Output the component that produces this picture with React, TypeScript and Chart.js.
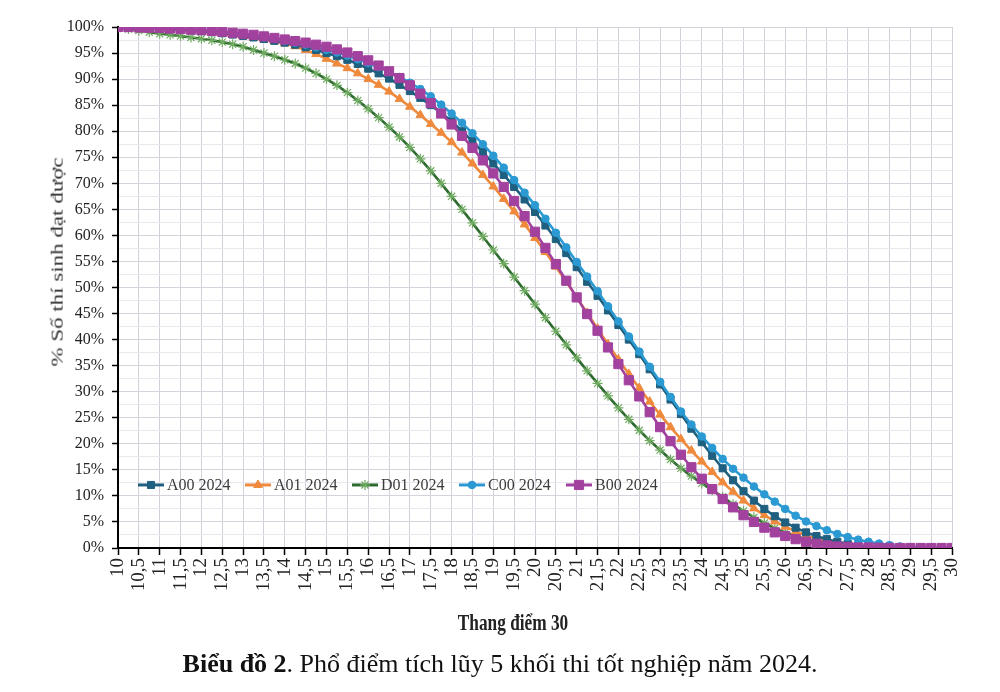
import React, { useEffect, useRef } from 'react';
import { Chart, registerables } from 'chart.js';
import { drawPoint } from 'chart.js/helpers';

Chart.register(...registerables);

// Thang điểm (x values), step 0.25
const scores = [
  10, 10.25, 10.5, 10.75, 11, 11.25, 11.5, 11.75, 12, 12.25, 12.5, 12.75,
  13, 13.25, 13.5, 13.75, 14, 14.25, 14.5, 14.75, 15, 15.25, 15.5, 15.75,
  16, 16.25, 16.5, 16.75, 17, 17.25, 17.5, 17.75, 18, 18.25, 18.5, 18.75,
  19, 19.25, 19.5, 19.75, 20, 20.25, 20.5, 20.75, 21, 21.25, 21.5, 21.75,
  22, 22.25, 22.5, 22.75, 23, 23.25, 23.5, 23.75, 24, 24.25, 24.5, 24.75,
  25, 25.25, 25.5, 25.75, 26, 26.25, 26.5, 26.75, 27, 27.25, 27.5, 27.75,
  28, 28.25, 28.5, 28.75, 29, 29.25, 29.5, 29.75, 30,
];

const seriesLabels = ['A00 2024', 'A01 2024', 'D01 2024', 'C00 2024', 'B00 2024'];

const a00 = [
  100, 99.9, 99.85, 99.8, 99.7, 99.6, 99.5, 99.35, 99.2, 99.0, 98.8, 98.55,
  98.3, 98.0, 97.7, 97.35, 97.0, 96.6, 96.1, 95.6, 95.0, 94.4, 93.7, 92.9,
  92.0, 91.1, 90.1, 88.9, 87.7, 86.4, 85.0, 83.5, 81.9, 80.0, 78.1, 76.0,
  73.8, 71.6, 69.3, 66.9, 64.5, 61.9, 59.3, 56.6, 53.9, 51.1, 48.4, 45.6,
  42.8, 40.0, 37.2, 34.3, 31.4, 28.5, 25.7, 22.9, 20.3, 17.7, 15.3, 13.0,
  10.9, 9.1, 7.5, 6.1, 4.9, 3.9, 3.0, 2.3, 1.7, 1.2, 0.8, 0.5,
  0.3, 0.2, 0.1, 0.05, 0, 0, 0, 0, 0,
];

const a01 = [
  99.9, 99.85, 99.8, 99.7, 99.6, 99.5, 99.4, 99.25, 99.1, 98.9, 98.7, 98.45,
  98.2, 97.9, 97.6, 97.25, 96.85, 96.3, 95.6, 94.8, 93.9, 93.0, 92.1, 91.1,
  90.0, 88.9, 87.6, 86.2, 84.7, 83.1, 81.4, 79.7, 77.9, 75.9, 73.8, 71.6,
  69.4, 67.0, 64.6, 62.1, 59.5, 56.8, 54.0, 51.1, 48.1, 45.1, 42.1, 39.1,
  36.2, 33.4, 30.7, 28.1, 25.6, 23.2, 20.9, 18.7, 16.6, 14.6, 12.6, 10.8,
  9.1, 7.6, 6.3, 5.1, 4.1, 3.2, 2.4, 1.8, 1.3, 0.9, 0.6, 0.4,
  0.25, 0.15, 0.1, 0.05, 0, 0, 0, 0, 0,
];

const d01 = [
  99.9, 99.6, 99.3, 99.0, 98.7, 98.5, 98.25, 98.0, 97.75, 97.45, 97.1, 96.7,
  96.2, 95.6, 95.0, 94.4, 93.7, 93.0, 92.1, 91.1, 90.0, 88.8, 87.4, 85.9,
  84.3, 82.6, 80.8, 78.9, 76.9, 74.7, 72.4, 70.0, 67.5, 65.0, 62.4, 59.8,
  57.2, 54.6, 52.0, 49.4, 46.8, 44.2, 41.6, 39.0, 36.5, 34.0, 31.6, 29.2,
  26.9, 24.7, 22.6, 20.6, 18.8, 17.0, 15.3, 13.8, 12.4, 11.1, 9.8, 8.4,
  7.1, 5.9, 4.8, 3.8, 3.0, 2.3, 1.7, 1.2, 0.8, 0.5, 0.3, 0.2,
  0.1, 0.05, 0, 0, 0, 0, 0, 0, 0,
];

const c00 = [
  100, 99.95, 99.9, 99.85, 99.8, 99.7, 99.6, 99.5, 99.35, 99.2, 99.0, 98.8,
  98.55, 98.3, 98.0, 97.7, 97.35, 97.0, 96.6, 96.1, 95.6, 95.1, 94.5, 93.8,
  93.1, 92.3, 91.4, 90.4, 89.3, 88.1, 86.7, 85.1, 83.4, 81.6, 79.6, 77.5,
  75.3, 73.0, 70.6, 68.2, 65.8, 63.2, 60.5, 57.7, 54.9, 52.1, 49.3, 46.4,
  43.5, 40.6, 37.7, 34.8, 31.9, 29.0, 26.2, 23.7, 21.4, 19.2, 17.1, 15.2,
  13.5, 11.8, 10.3, 8.9, 7.5, 6.2, 5.1, 4.2, 3.4, 2.7, 2.1, 1.6,
  1.2, 0.85, 0.55, 0.3, 0.15, 0.08, 0.03, 0, 0,
];

const b00 = [
  100, 100, 99.9, 99.85, 99.8, 99.7, 99.6, 99.5, 99.4, 99.25, 99.1, 98.9,
  98.7, 98.5, 98.2, 97.9, 97.6, 97.3, 97.0, 96.6, 96.2, 95.7, 95.1, 94.4,
  93.6, 92.6, 91.5, 90.2, 88.8, 87.2, 85.4, 83.4, 81.3, 79.1, 76.8, 74.4,
  71.9, 69.3, 66.6, 63.7, 60.7, 57.6, 54.5, 51.3, 48.1, 44.9, 41.7, 38.5,
  35.3, 32.2, 29.1, 26.1, 23.2, 20.5, 17.9, 15.5, 13.3, 11.3, 9.4, 7.8,
  6.3, 5.0, 3.9, 3.0, 2.3, 1.7, 1.2, 0.8, 0.5, 0.3, 0.2, 0.1,
  0.1, 0.05, 0.03, 0, 0, 0, 0, 0, 0,
];

const LEGEND_Y = 12.1;
const SERIF = "'Liberation Serif', 'Times New Roman', serif";

const toPoints = (vals: number[]) => scores.map((x, i) => ({ x, y: vals[i] }));

const inlineLegend = {
  id: 'inlineLegend',
  afterDraw(chart: any) {
    const { ctx, chartArea, scales } = chart;
    const y = scales.y.getPixelForValue(LEGEND_Y);
    ctx.save();
    chart.data.datasets.forEach((ds: any, i: number) => {
      const x0 = chartArea.left + 20 + i * 107;
      ctx.strokeStyle = ds.borderColor;
      ctx.lineWidth = 3;
      ctx.beginPath();
      ctx.moveTo(x0, y);
      ctx.lineTo(x0 + 26, y);
      ctx.stroke();
      ctx.fillStyle = ds.pointBackgroundColor;
      ctx.strokeStyle = ds.pointBorderColor;
      ctx.lineWidth = ds.pointBorderWidth;
      drawPoint(
        ctx,
        { pointStyle: ds.pointStyle, radius: ds.pointRadius, rotation: 0, borderWidth: ds.pointBorderWidth },
        x0 + 13,
        y
      );
      ctx.fillStyle = '#3c3c3c';
      ctx.font = `16px ${SERIF}`;
      ctx.textBaseline = 'middle';
      ctx.textAlign = 'left';
      ctx.fillText(ds.label, x0 + 29, y + 1);
    });
    ctx.restore();
  },
};

export default function App() {
  const ref = useRef<HTMLCanvasElement | null>(null);

  useEffect(() => {
    if (!ref.current) return;
    const mk = (
      label: string,
      vals: number[],
      color: string,
      pointStyle: string,
      radius: number,
      order: number,
      markerColor?: string,
      markerBorder = 1
    ) => ({
      label,
      data: toPoints(vals),
      borderColor: color,
      backgroundColor: color,
      borderWidth: 2.6,
      pointStyle,
      pointRadius: radius,
      pointBackgroundColor: markerColor || color,
      pointBorderColor: markerColor || color,
      pointBorderWidth: markerBorder,
      tension: 0,
      order,
    });

    const chart = new Chart(ref.current, {
      type: 'line',
      data: {
        datasets: [
          mk(seriesLabels[0], a00, '#1f5f7f', 'rect', 5, 2),
          mk(seriesLabels[1], a01, '#ef8a3d', 'triangle', 5, 3),
          mk(seriesLabels[2], d01, '#2c6a2e', 'star', 5, 4, '#6fab60', 1.2),
          mk(seriesLabels[3], c00, '#2b9ad3', 'circle', 3.8, 1),
          mk(seriesLabels[4], b00, '#a2419e', 'rect', 6.5, 0),
        ] as any,
      },
      options: {
        responsive: false,
        animation: false,
        layout: { padding: { top: 27, right: 48, bottom: 0, left: 0 } },
        plugins: {
          legend: { display: false },
          tooltip: { enabled: false },
        },
        scales: {
          x: {
            type: 'linear',
            min: 10,
            max: 30,
            afterFit: (s: any) => {
              s.height = 144;
            },
            border: { color: '#000', width: 2 },
            grid: { color: '#d3d0d9', lineWidth: 1, tickColor: '#000', tickLength: 7, tickWidth: 1.5 },
            ticks: {
              stepSize: 0.5,
              autoSkip: false,
              maxRotation: 90,
              minRotation: 90,
              padding: 3,
              color: '#222',
              font: { family: SERIF, size: 19 },
              callback: (v: any) => String(v).replace('.', ','),
            },
          },
          y: {
            min: 0,
            max: 100,
            afterFit: (s: any) => {
              s.width = 118;
            },
            border: { color: '#000', width: 2 },
            grid: {
              color: (c: any) => (c.tick && c.tick.value % 5 === 0 ? '#d6d3dc' : '#eae8ee'),
              lineWidth: 1,
              tickColor: (c: any) => (c.tick && c.tick.value % 5 === 0 ? '#000' : 'rgba(0,0,0,0)'),
              tickLength: 6,
              tickWidth: 1.5,
            },
            ticks: {
              stepSize: 2.5,
              autoSkip: false,
              padding: 8,
              color: '#222',
              font: { family: SERIF, size: 16 },
              callback: (v: any) => (Number(v) % 5 === 0 ? `${v}%` : ''),
            },
          },
        },
      } as any,
      plugins: [inlineLegend],
    });
    return () => chart.destroy();
  }, []);

  return (
    <div style={{ position: 'absolute', left: 0, top: 0, width: 1000, height: 692, background: '#fff', overflow: 'hidden' }}>
      <canvas ref={ref} width={1000} height={692} style={{ display: 'block' }} />
      <div
        style={{
          position: 'absolute',
          left: 58,
          top: 262,
          transform: 'translate(-50%, -50%) rotate(-90deg) scaleY(0.72)',
          whiteSpace: 'nowrap',
          fontFamily: SERIF,
          fontSize: 23,
          color: '#333',
          lineHeight: '26px',
        }}
      >
        % Số thí sinh đạt được
      </div>
      <div
        style={{
          position: 'absolute',
          left: 513,
          top: 622,
          transform: 'translate(-50%, -50%) scaleX(0.72)',
          whiteSpace: 'nowrap',
          fontFamily: SERIF,
          fontWeight: 'bold',
          fontSize: 24,
          color: '#222',
          lineHeight: '28px',
        }}
      >
        Thang điểm 30
      </div>
      <div
        style={{
          position: 'absolute',
          left: 500,
          top: 649,
          transform: 'translateX(-50%)',
          whiteSpace: 'nowrap',
          fontFamily: SERIF,
          fontSize: 26,
          color: '#111',
          lineHeight: '30px',
        }}
      >
        <b>Biểu đồ 2</b>. Phổ điểm tích lũy 5 khối thi tốt nghiệp năm 2024.
      </div>
    </div>
  );
}
